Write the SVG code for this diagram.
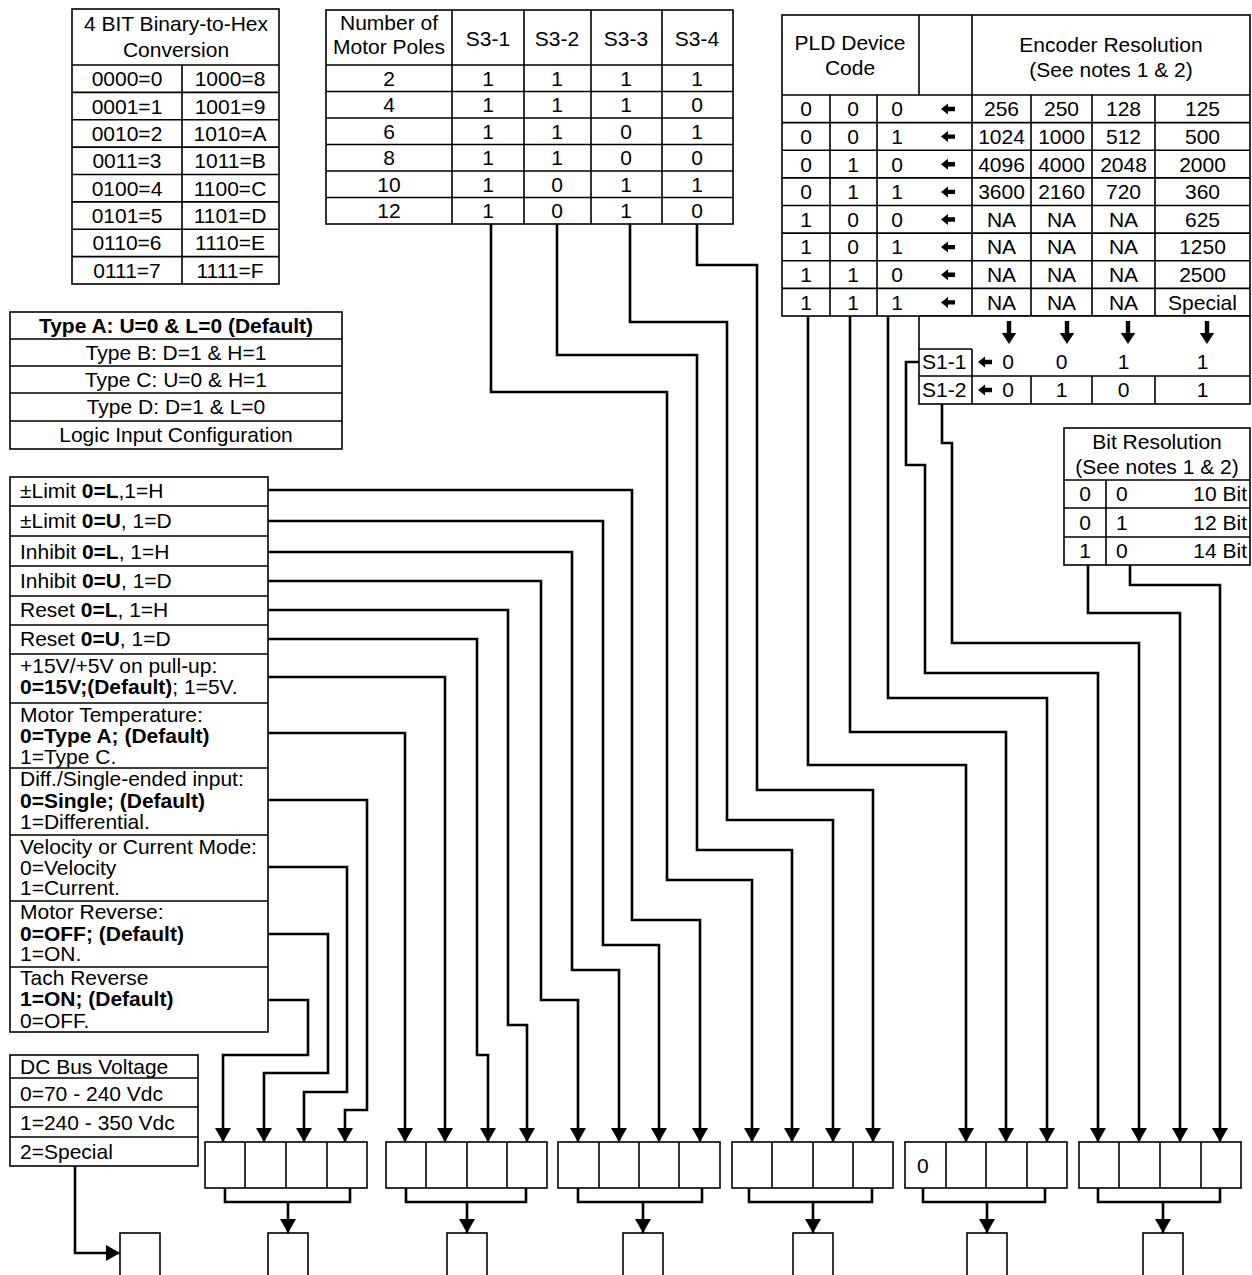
<svg xmlns="http://www.w3.org/2000/svg" width="1252" height="1275" viewBox="0 0 1252 1275">
<style>
text{font-family:"Liberation Sans",Arial,sans-serif;font-size:21px;fill:#000}
.c{text-anchor:middle}
.e{text-anchor:end}
.b{font-weight:bold}
.bx{fill:#fff;stroke:#000;stroke-width:1.6}
.ln{stroke:#000;stroke-width:1.6;fill:none}
.w{stroke:#000;stroke-width:2.6;fill:none}
.wa{stroke:#000;stroke-width:2.6;fill:none;marker-end:url(#ah)}
</style>
<defs>
<marker id="ah" viewBox="0 0 14 16" refX="14" refY="8" markerWidth="14" markerHeight="16" markerUnits="userSpaceOnUse" orient="auto">
<path d="M0,0 L14,8 L0,16 Z" fill="#000"/>
</marker>
<path id="la" d="M-7,0 L0,-5.5 L0,-2.2 L7,-2.2 L7,2.2 L0,2.2 L0,5.5 Z" fill="#000"/>
<path id="da" d="M-2.2,0 h4.4 v12 h5 l-7.2,11 l-7.2,-11 h5 z" fill="#000"/>
</defs>

<g id="hex-table">
<rect class="bx" x="72" y="9" width="207" height="275"/>
<path class="ln" d="M72,65H279M72,92.4H279M72,119.75H279M72,147.1H279M72,174.5H279M72,201.9H279M72,229.25H279M72,256.6H279M182,65V284"/>
<text class="c" x="176" y="31">4 BIT Binary-to-Hex</text>
<text class="c" x="176" y="57">Conversion</text>
<text class="c" x="127" y="86.2">0000=0</text><text class="c" x="230" y="86.2">1000=8</text>
<text class="c" x="127" y="113.6">0001=1</text><text class="c" x="230" y="113.6">1001=9</text>
<text class="c" x="127" y="141">0010=2</text><text class="c" x="230" y="141">1010=A</text>
<text class="c" x="127" y="168.3">0011=3</text><text class="c" x="230" y="168.3">1011=B</text>
<text class="c" x="127" y="195.7">0100=4</text><text class="c" x="230" y="195.7">1100=C</text>
<text class="c" x="127" y="223.1">0101=5</text><text class="c" x="230" y="223.1">1101=D</text>
<text class="c" x="127" y="250.4">0110=6</text><text class="c" x="230" y="250.4">1110=E</text>
<text class="c" x="127" y="277.8">0111=7</text><text class="c" x="230" y="277.8">1111=F</text>
</g>

<g id="s3-table">
<rect class="bx" x="326" y="10" width="407" height="214"/>
<path class="ln" d="M326,65H733M326,91.5H733M326,118H733M326,144.5H733M326,171H733M326,197.5H733M452,10V224M524,10V224M591,10V224M662,10V224"/>
<text class="c" x="389" y="30">Number of</text>
<text class="c" x="389" y="54">Motor Poles</text>
<text class="c" x="488" y="46">S3-1</text><text class="c" x="557" y="46">S3-2</text><text class="c" x="626" y="46">S3-3</text><text class="c" x="697" y="46">S3-4</text>
<text class="c" x="389" y="85.8">2</text><text class="c" x="488" y="85.8">1</text><text class="c" x="557" y="85.8">1</text><text class="c" x="626" y="85.8">1</text><text class="c" x="697" y="85.8">1</text>
<text class="c" x="389" y="112.3">4</text><text class="c" x="488" y="112.3">1</text><text class="c" x="557" y="112.3">1</text><text class="c" x="626" y="112.3">1</text><text class="c" x="697" y="112.3">0</text>
<text class="c" x="389" y="138.8">6</text><text class="c" x="488" y="138.8">1</text><text class="c" x="557" y="138.8">1</text><text class="c" x="626" y="138.8">0</text><text class="c" x="697" y="138.8">1</text>
<text class="c" x="389" y="165.3">8</text><text class="c" x="488" y="165.3">1</text><text class="c" x="557" y="165.3">1</text><text class="c" x="626" y="165.3">0</text><text class="c" x="697" y="165.3">0</text>
<text class="c" x="389" y="191.8">10</text><text class="c" x="488" y="191.8">1</text><text class="c" x="557" y="191.8">0</text><text class="c" x="626" y="191.8">1</text><text class="c" x="697" y="191.8">1</text>
<text class="c" x="389" y="218.3">12</text><text class="c" x="488" y="218.3">1</text><text class="c" x="557" y="218.3">0</text><text class="c" x="626" y="218.3">1</text><text class="c" x="697" y="218.3">0</text>
</g>

<g id="pld-table">
<rect class="bx" x="782" y="15" width="468" height="301"/>
<path class="ln" d="M919,15V95M972,15V316M782,95H1250M782,122.6H1250M782,150.25H1250M782,177.9H1250M782,205.5H1250M782,233.1H1250M782,260.75H1250M782,288.4H1250M830,95V316M877,95V316M1031,95V316M1092,95V316M1155,95V316"/>
<text class="c" x="850" y="50">PLD Device</text>
<text class="c" x="850" y="75">Code</text>
<text class="c" x="1111" y="52">Encoder Resolution</text>
<text class="c" x="1111" y="77">(See notes 1 &amp; 2)</text>
<g>
<text class="c" x="806" y="116.3">0</text><text class="c" x="853" y="116.3">0</text><text class="c" x="897" y="116.3">0</text><use href="#la" x="948" y="109"/><text class="c" x="1001.5" y="116.3">256</text><text class="c" x="1061.5" y="116.3">250</text><text class="c" x="1123.5" y="116.3">128</text><text class="c" x="1202.5" y="116.3">125</text>
<text class="c" x="806" y="143.9">0</text><text class="c" x="853" y="143.9">0</text><text class="c" x="897" y="143.9">1</text><use href="#la" x="948" y="136.6"/><text class="c" x="1001.5" y="143.9">1024</text><text class="c" x="1061.5" y="143.9">1000</text><text class="c" x="1123.5" y="143.9">512</text><text class="c" x="1202.5" y="143.9">500</text>
<text class="c" x="806" y="171.5">0</text><text class="c" x="853" y="171.5">1</text><text class="c" x="897" y="171.5">0</text><use href="#la" x="948" y="164.2"/><text class="c" x="1001.5" y="171.5">4096</text><text class="c" x="1061.5" y="171.5">4000</text><text class="c" x="1123.5" y="171.5">2048</text><text class="c" x="1202.5" y="171.5">2000</text>
<text class="c" x="806" y="199.2">0</text><text class="c" x="853" y="199.2">1</text><text class="c" x="897" y="199.2">1</text><use href="#la" x="948" y="191.9"/><text class="c" x="1001.5" y="199.2">3600</text><text class="c" x="1061.5" y="199.2">2160</text><text class="c" x="1123.5" y="199.2">720</text><text class="c" x="1202.5" y="199.2">360</text>
<text class="c" x="806" y="226.8">1</text><text class="c" x="853" y="226.8">0</text><text class="c" x="897" y="226.8">0</text><use href="#la" x="948" y="219.5"/><text class="c" x="1001.5" y="226.8">NA</text><text class="c" x="1061.5" y="226.8">NA</text><text class="c" x="1123.5" y="226.8">NA</text><text class="c" x="1202.5" y="226.8">625</text>
<text class="c" x="806" y="254.4">1</text><text class="c" x="853" y="254.4">0</text><text class="c" x="897" y="254.4">1</text><use href="#la" x="948" y="247.1"/><text class="c" x="1001.5" y="254.4">NA</text><text class="c" x="1061.5" y="254.4">NA</text><text class="c" x="1123.5" y="254.4">NA</text><text class="c" x="1202.5" y="254.4">1250</text>
<text class="c" x="806" y="282">1</text><text class="c" x="853" y="282">1</text><text class="c" x="897" y="282">0</text><use href="#la" x="948" y="274.7"/><text class="c" x="1001.5" y="282">NA</text><text class="c" x="1061.5" y="282">NA</text><text class="c" x="1123.5" y="282">NA</text><text class="c" x="1202.5" y="282">2500</text>
<text class="c" x="806" y="309.7">1</text><text class="c" x="853" y="309.7">1</text><text class="c" x="897" y="309.7">1</text><use href="#la" x="948" y="302.4"/><text class="c" x="1001.5" y="309.7">NA</text><text class="c" x="1061.5" y="309.7">NA</text><text class="c" x="1123.5" y="309.7">NA</text><text class="c" x="1202.5" y="309.7">Special</text>
</g>
</g>

<g id="s1-table">
<rect class="bx" x="919" y="316" width="331" height="88"/>
<path class="ln" d="M919,349H972M919,376H1250M972,349V404M1031,376V404M1092,376V404M1155,376V404"/>
<use href="#da" x="1009" y="321"/><use href="#da" x="1067" y="321"/><use href="#da" x="1128" y="321"/><use href="#da" x="1207" y="321"/>
<text x="922" y="369">S1-1</text><use href="#la" x="985" y="362"/><text class="c" x="1008" y="369">0</text><text class="c" x="1061.5" y="369">0</text><text class="c" x="1123.5" y="369">1</text><text class="c" x="1202.5" y="369">1</text>
<text x="922" y="397">S1-2</text><use href="#la" x="985" y="390"/><text class="c" x="1008" y="397">0</text><text class="c" x="1061.5" y="397">1</text><text class="c" x="1123.5" y="397">0</text><text class="c" x="1202.5" y="397">1</text>
</g>

<g id="bit-res-table">
<rect class="bx" x="1064" y="428" width="186" height="137"/>
<path class="ln" d="M1064,480H1250M1064,508H1250M1064,537H1250M1106,480V565"/>
<text class="c" x="1157" y="449">Bit Resolution</text>
<text class="c" x="1157" y="474">(See notes 1 &amp; 2)</text>
<text class="c" x="1085" y="501">0</text><text x="1116" y="501">0</text><text class="e" x="1247" y="501">10 Bit</text>
<text class="c" x="1085" y="530">0</text><text x="1116" y="530">1</text><text class="e" x="1247" y="530">12 Bit</text>
<text class="c" x="1085" y="558">1</text><text x="1116" y="558">0</text><text class="e" x="1247" y="558">14 Bit</text>
</g>

<g id="logic-type-table">
<rect class="bx" x="10" y="312" width="332" height="137"/>
<path class="ln" d="M10,339H342M10,366H342M10,393H342M10,421H342"/>
<text class="c b" x="176" y="333">Type A: U=0 &amp; L=0 (Default)</text>
<text class="c" x="176" y="360">Type B: D=1 &amp; H=1</text>
<text class="c" x="176" y="387">Type C: U=0 &amp; H=1</text>
<text class="c" x="176" y="414">Type D: D=1 &amp; L=0</text>
<text class="c" x="176" y="442">Logic Input Configuration</text>
</g>

<g id="option-labels">
<rect class="bx" x="10" y="477" width="258" height="555"/>
<path class="ln" d="M10,506H268M10,536H268M10,566H268M10,596H268M10,625H268M10,654H268M10,703H268M10,768H268M10,835H268M10,901H268M10,967H268"/>
<text x="20" y="498">±Limit <tspan class="b">0=L</tspan>,1=H</text>
<text x="20" y="528">±Limit <tspan class="b">0=U</tspan>, 1=D</text>
<text x="20" y="559">Inhibit <tspan class="b">0=L</tspan>, 1=H</text>
<text x="20" y="588">Inhibit <tspan class="b">0=U</tspan>, 1=D</text>
<text x="20" y="617">Reset <tspan class="b">0=L</tspan>, 1=H</text>
<text x="20" y="646">Reset <tspan class="b">0=U</tspan>, 1=D</text>
<text x="20" y="673">+15V/+5V on pull-up:</text>
<text x="20" y="694"><tspan class="b">0=15V;(Default)</tspan>; 1=5V.</text>
<text x="20" y="722">Motor Temperature:</text>
<text class="b" x="20" y="743">0=Type A; (Default)</text>
<text x="20" y="764">1=Type C.</text>
<text x="20" y="786">Diff./Single-ended input:</text>
<text class="b" x="20" y="808">0=Single; (Default)</text>
<text x="20" y="829">1=Differential.</text>
<text x="20" y="854">Velocity or Current Mode:</text>
<text x="20" y="875">0=Velocity</text>
<text x="20" y="895">1=Current.</text>
<text x="20" y="919">Motor Reverse:</text>
<text class="b" x="20" y="941">0=OFF; (Default)</text>
<text x="20" y="961">1=ON.</text>
<text x="20" y="985">Tach Reverse</text>
<text class="b" x="20" y="1006">1=ON; (Default)</text>
<text x="20" y="1028">0=OFF.</text>
</g>

<g id="dc-bus-table">
<rect class="bx" x="10" y="1055" width="188" height="111"/>
<path class="ln" d="M10,1078H198M10,1107H198M10,1137H198"/>
<text x="20" y="1074">DC Bus Voltage</text>
<text x="20" y="1101">0=70 - 240 Vdc</text>
<text x="20" y="1130">1=240 - 350 Vdc</text>
<text x="20" y="1159">2=Special</text>
</g>

<g id="register-1"><rect class="bx" x="205" y="1142" width="162" height="46"/><path class="ln" d="M245,1142V1188M286,1142V1188M327,1142V1188"/></g>
<g id="register-2"><rect class="bx" x="386" y="1142" width="161" height="46"/><path class="ln" d="M426,1142V1188M467,1142V1188M507,1142V1188"/></g>
<g id="register-3"><rect class="bx" x="558" y="1142" width="162" height="46"/><path class="ln" d="M599,1142V1188M639,1142V1188M679,1142V1188"/></g>
<g id="register-4"><rect class="bx" x="732" y="1142" width="161" height="46"/><path class="ln" d="M772,1142V1188M813,1142V1188M853,1142V1188"/></g>
<g id="register-5"><rect class="bx" x="905" y="1142" width="162" height="46"/><path class="ln" d="M946,1142V1188M986,1142V1188M1027,1142V1188"/><text x="917" y="1173">0</text></g>
<g id="register-6"><rect class="bx" x="1079" y="1142" width="162" height="46"/><path class="ln" d="M1119,1142V1188M1160,1142V1188M1201,1142V1188"/></g>

<g id="digit-boxes">
<rect class="bx" x="120" y="1233" width="40" height="60"/>
<rect class="bx" x="268" y="1233" width="40" height="60"/>
<rect class="bx" x="447" y="1233" width="40" height="60"/>
<rect class="bx" x="623" y="1233" width="40" height="60"/>
<rect class="bx" x="793" y="1233" width="40" height="60"/>
<rect class="bx" x="967" y="1233" width="40" height="60"/>
<rect class="bx" x="1143" y="1233" width="40" height="60"/>
</g>

<g id="connectors">
<path class="wa" d="M268,490H632V920H700V1142"/>
<path class="wa" d="M268,521H603V945H659V1142"/>
<path class="wa" d="M268,552H572V970H619V1142"/>
<path class="wa" d="M268,581H541V1000H578V1142"/>
<path class="wa" d="M268,610H508V1025H527V1142"/>
<path class="wa" d="M268,639H477V1055H488V1142"/>
<path class="wa" d="M268,677H445V1142"/>
<path class="wa" d="M268,733H405V1142"/>
<path class="wa" d="M268,800H367V1110H345V1142"/>
<path class="wa" d="M268,867H347V1092H304V1142"/>
<path class="wa" d="M268,934H328V1073H264V1142"/>
<path class="wa" d="M268,1000H308V1055H223V1142"/>
<path class="wa" d="M491,224V392H667V880H752V1142"/>
<path class="wa" d="M557,224V355H697V850H792V1142"/>
<path class="wa" d="M630,224V322H727V820H833V1142"/>
<path class="wa" d="M697,224V265H757V790H873V1142"/>
<path class="wa" d="M808,316V765H966V1142"/>
<path class="wa" d="M850,316V732H1006V1142"/>
<path class="wa" d="M888,316V698H1047V1142"/>
<path class="wa" d="M919,362H906V465H925V673H1098V1142"/>
<path class="wa" d="M942,404V443H952V643H1139V1142"/>
<path class="wa" d="M1088,565V613H1180V1142"/>
<path class="wa" d="M1130,565V585H1220V1142"/>
<path class="wa" d="M75,1166V1253H120"/>
<path class="wa" d="M225,1188V1202H350V1188M288,1202V1233"/>
<path class="wa" d="M406,1188V1202H526V1188M467,1202V1233"/>
<path class="wa" d="M578,1188V1202H702V1188M643,1202V1233"/>
<path class="wa" d="M749,1188V1202H872V1188M813,1202V1233"/>
<path class="wa" d="M923,1188V1202H1045V1188M987,1202V1233"/>
<path class="wa" d="M1098,1188V1202H1220V1188M1163,1202V1233"/>
</g>
</svg>
